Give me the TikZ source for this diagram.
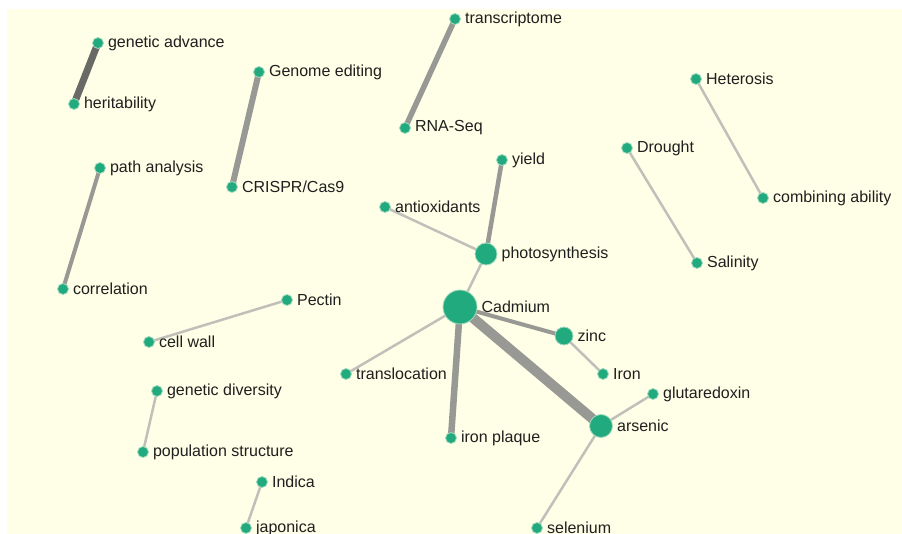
\documentclass[tikz,border=0pt]{standalone}
\usepackage{fontspec}
\setmainfont{Liberation Sans}

\definecolor{paper}{RGB}{255,254,230}
\definecolor{termgreen}{RGB}{33,170,125}
\definecolor{termrim}{RGB}{165,218,192}
\definecolor{tielight}{RGB}{192,192,186}
\definecolor{tiemid}{RGB}{152,152,148}
\definecolor{tiedark}{RGB}{105,105,102}

\pgfdeclarelayer{back}
\pgfsetlayers{back,main}

\begin{document}
\begin{tikzpicture}[x=1pt, y=-1pt]

  % Styles
  \tikzset{
    term/.style={circle, fill=termgreen, draw=termrim, line width=0.8pt, inner sep=0pt, minimum size=11pt},
    hub/.style={term, minimum size=#1},
    every label/.style={font=\fontsize{16}{19}\selectfont, text=black!88, inner sep=1pt},
    label distance=3pt,
    weak tie/.style={draw=tielight, line width=2.5pt},
    mid tie/.style={draw=tiemid, line width=#1},
    dark tie/.style={draw=tiedark, line width=7pt}
  }

  \useasboundingbox (0,0) rectangle (902,534);

  % --- BREEDING / GENETICS PAIRS ---
  \node[term, label=right:genetic advance] (gadv) at (98,43) {};
  \node[term, label=right:heritability] (herit) at (74,104) {};
  \node[term, label=right:Genome editing] (gedit) at (259,72) {};
  \node[term, label=right:CRISPR/Cas9] (crispr) at (232,187) {};
  \node[term, label=right:transcriptome] (transc) at (455,19) {};
  \node[term, label=right:RNA-Seq] (rnaseq) at (405,128) {};
  \node[term, label=right:Heterosis] (heter) at (696,79) {};
  \node[term, label=right:combining ability] (combab) at (763,198) {};
  \node[term, label=right:Drought] (drought) at (627,148) {};
  \node[term, label=right:Salinity] (salin) at (697,263) {};
  \node[term, label=right:path analysis] (patha) at (100,168) {};
  \node[term, label=right:correlation] (correl) at (63,289) {};
  \node[term, label=right:Pectin] (pectin) at (287,300) {};
  \node[term, label=right:cell wall] (cwall) at (149,342) {};
  \node[term, label=right:genetic diversity] (gdiv) at (157,391) {};
  \node[term, label=right:population structure] (popst) at (143,452) {};
  \node[term, label=right:Indica] (indica) at (262,482) {};
  \node[term, label=right:japonica] (japon) at (246,528) {};

  % --- CADMIUM CLUSTER ---
  \node[term, label=right:yield] (yield) at (502,160) {};
  \node[term, label=right:antioxidants] (antiox) at (385,207) {};
  \node[hub=22pt, label=right:photosynthesis] (photo) at (486,254) {};
  \node[hub=34pt, label=right:Cadmium] (cd) at (460,307) {};
  \node[hub=18pt, label=right:zinc] (zinc) at (564,336) {};
  \node[term, label=right:Iron] (iron) at (603,374) {};
  \node[term, label=right:glutaredoxin] (grx) at (653,394) {};
  \node[hub=23pt, label=right:arsenic] (arsenic) at (601,426) {};
  \node[term, label=right:selenium] (selen) at (537,528) {};
  \node[term, label=right:iron plaque] (fplaque) at (451,438) {};
  \node[term, label=right:translocation] (transl) at (346,374) {};

  \begin{pgfonlayer}{back}
    % canvas
    \fill[paper] (7,9) rectangle (902,534);

    % --- LINKS ---
    \draw[dark tie] (gadv.center) -- (herit.center);
    \draw[mid tie=6pt] (gedit.center) -- (crispr.center);
    \draw[mid tie=5.5pt] (transc.center) -- (rnaseq.center);
    \draw[mid tie=4pt] (patha.center) -- (correl.center);
    \draw[weak tie] (heter.center) -- (combab.center);
    \draw[weak tie] (drought.center) -- (salin.center);
    \draw[weak tie] (pectin.center) -- (cwall.center);
    \draw[weak tie] (gdiv.center) -- (popst.center);
    \draw[weak tie] (indica.center) -- (japon.center);

    \draw[mid tie=4.5pt] (yield.center) -- (photo.center);
    \draw[weak tie] (antiox.center) -- (photo.center);
    \draw[weak tie] (photo.center) -- (cd.center);
    \draw[mid tie=4pt] (cd.center) -- (zinc.center);
    \draw[weak tie] (zinc.center) -- (iron.center);
    \draw[mid tie=10pt] (cd.center) -- (arsenic.center);
    \draw[mid tie=6.5pt] (cd.center) -- (fplaque.center);
    \draw[weak tie] (cd.center) -- (transl.center);
    \draw[weak tie] (arsenic.center) -- (grx.center);
    \draw[weak tie] (arsenic.center) -- (selen.center);
  \end{pgfonlayer}

\end{tikzpicture}
\end{document}
